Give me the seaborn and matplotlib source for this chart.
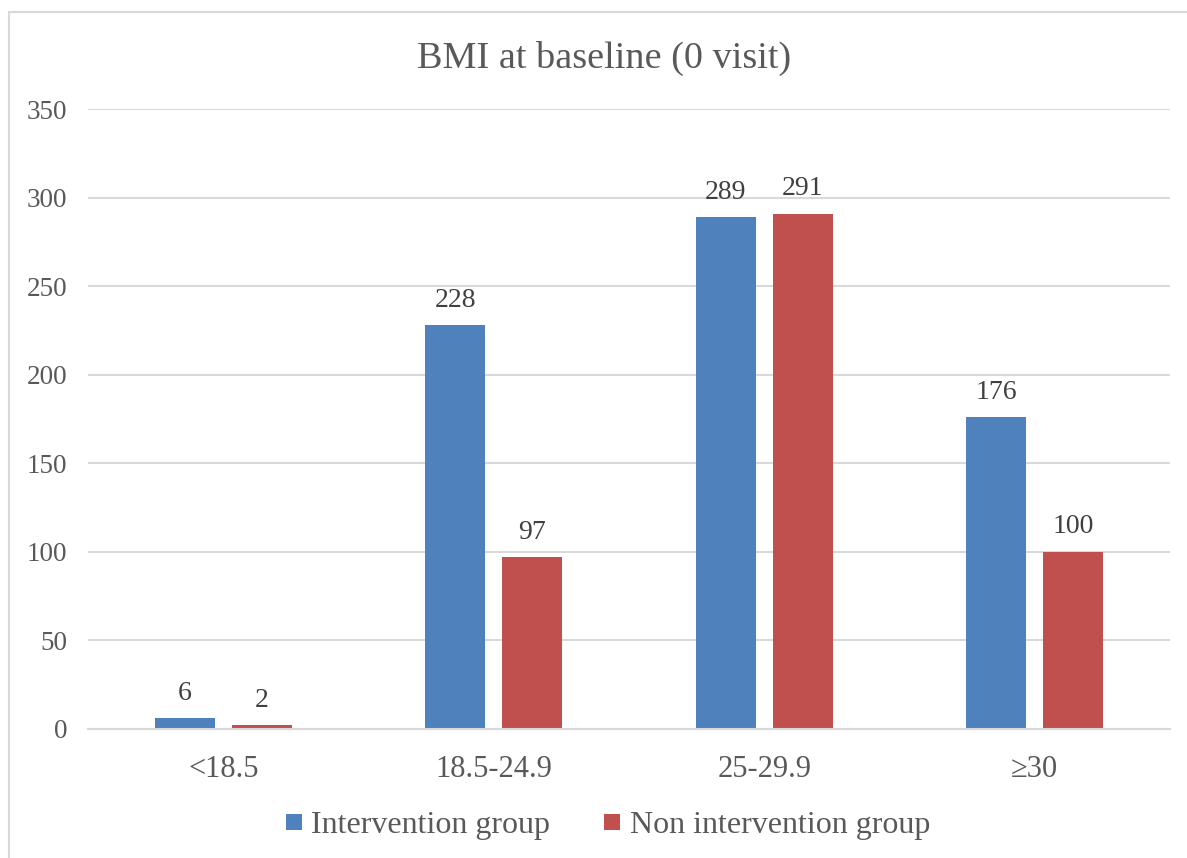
import matplotlib
matplotlib.use("Agg")
import matplotlib.pyplot as plt
import seaborn as sns
import pandas as pd
from matplotlib.patches import Rectangle
from matplotlib.lines import Line2D

categories = ["<18.5", "18.5-24.9", "25-29.9", "≥30"]
intervention = [6, 228, 289, 176]
non_intervention = [2, 97, 291, 100]
series_names = ["Intervention group", "Non intervention group"]
y_ticks = [0, 50, 100, 150, 200, 250, 300, 350]

df = pd.DataFrame({
    "BMI": categories * 2,
    "Count": intervention + non_intervention,
    "Group": [series_names[0]] * len(categories) + [series_names[1]] * len(categories),
})

sns.set_theme(style="white")
plt.rcParams["font.family"] = ["Liberation Serif", "DejaVu Serif"]

text_color = "#595959"
grid_color = "#D9D9D9"
palette = {series_names[0]: "#4F81BD", series_names[1]: "#C0504D"}

fig = plt.figure(figsize=(11.87, 8.58), dpi=100)
ax = fig.add_axes([88 / 1187, 1 - 729 / 858, (1170 - 88) / 1187, (729 - 109) / 858])

sns.barplot(data=df, x="BMI", y="Count", hue="Group", order=categories,
            hue_order=series_names, palette=palette, width=0.57, gap=0.22,
            saturation=1, linewidth=0, ax=ax, legend=False)

ax.set_xlim(-0.5, len(categories) - 0.5)
ax.set_ylim(0, 350)
ax.set_yticks(y_ticks)
ax.set_xlabel("")
ax.set_ylabel("")
ax.yaxis.grid(True, color=grid_color, linewidth=1.5)
ax.set_axisbelow(True)
for side in ["top", "right", "left"]:
    ax.spines[side].set_visible(False)
ax.spines["bottom"].set_color(grid_color)
ax.spines["bottom"].set_linewidth(1.5)
ax.tick_params(axis="y", length=0, pad=15, labelsize=19.5, labelcolor=text_color)
ax.tick_params(axis="x", length=0, pad=19, labelsize=22, labelcolor=text_color)

for container in ax.containers:
    ax.bar_label(container, labels=[f"{v:g}" for v in container.datavalues],
                 padding=9, fontsize=20, color="#404040")

fig.text(604 / 1187, 1 - 58 / 858, "BMI at baseline (0 visit)", ha="center",
         va="center", fontsize=27.5, color=text_color)

handles = [Line2D([], [], linestyle="none", marker="s", markersize=11.5,
                  markerfacecolor=palette[n], markeredgewidth=0) for n in series_names]
fig.legend(handles, series_names, loc="center", bbox_to_anchor=(608 / 1187, 1 - 825 / 858),
           ncol=2, frameon=False, fontsize=23, labelcolor=text_color,
           handlelength=0.5, handletextpad=0.3, columnspacing=1.7)

fig.patches.append(Rectangle((9 / 1187, -0.1), 1.2, 1 - 12 / 858 + 0.1,
                             transform=fig.transFigure, fill=False,
                             edgecolor="#D9D9D9", linewidth=1.5))

fig.savefig("out.png", dpi=100, facecolor="white")
